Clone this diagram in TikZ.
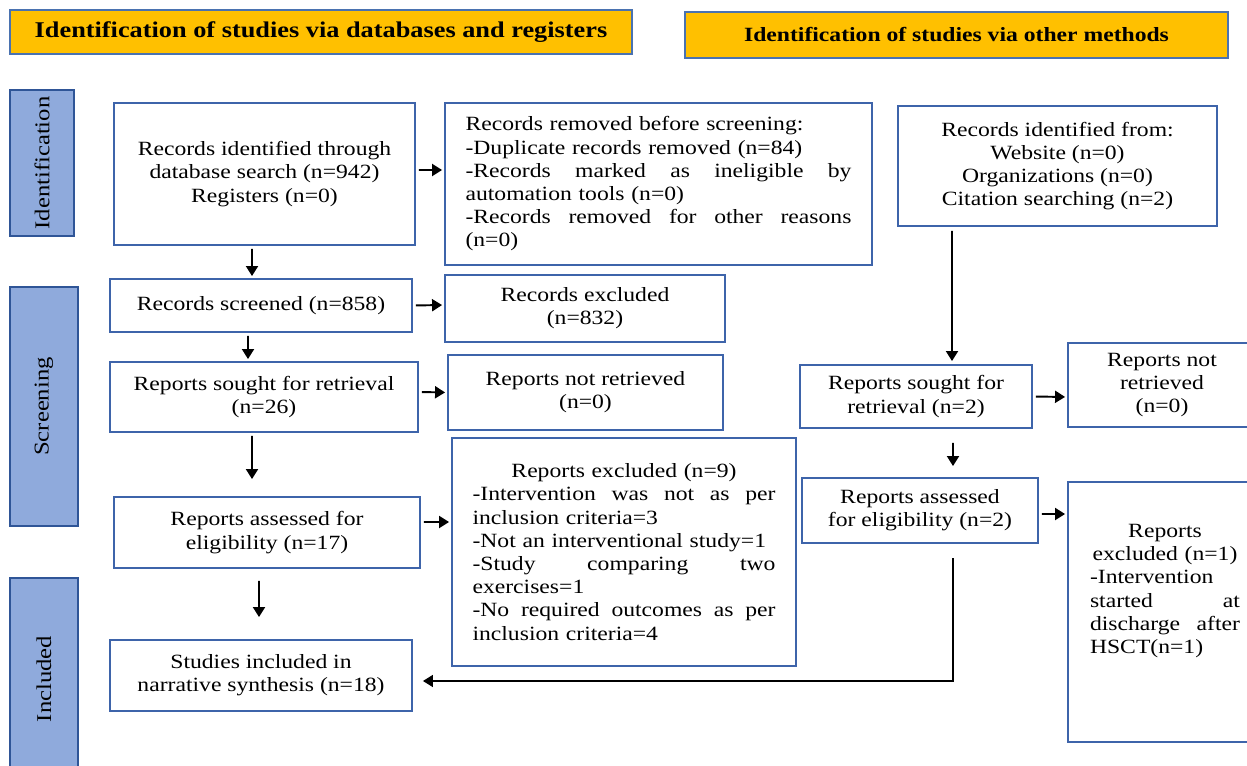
\documentclass[tikz,border=0pt]{standalone}
\usepackage{fontspec}
\setmainfont{Liberation Serif}[FakeStretch=1.17]
\usepackage{tikz}
\usetikzlibrary{arrows.meta}

\definecolor{hdfill}{HTML}{FFC000}
\definecolor{hdline}{HTML}{4A72B0}
\definecolor{sdfill}{HTML}{8FAADC}
\definecolor{sdline}{HTML}{2F5597}
\definecolor{bxline}{HTML}{3E64AA}

\begin{document}
\begin{tikzpicture}[x=0.02cm,y=-0.02cm,
  hdbox/.style={draw=hdline,line width=1.2pt,fill=hdfill},
  side/.style={draw=sdline,line width=1.2pt,fill=sdfill,rotate=90,font=\fontsize{12}{14}\selectfont},
  box/.style={draw=bxline,line width=1.1pt,fill=white,align=center,font=\fontsize{11.5}{13.2}\selectfont},
  arr/.style={line width=1.1pt,-{Triangle[length=0.2cm,width=0.24cm]},shorten <=0.06cm,shorten >=0.04cm},
  link/.style={line width=0.8pt,-{Triangle[length=0.2cm,width=0.24cm]}}]
\useasboundingbox (0,0) rectangle (1247,766);

\node[hdbox,minimum width=12.44cm,minimum height=0.88cm,font=\bfseries\fontsize{12.8}{14}\selectfont] (hdDb) at (321,32) {Identification of studies via databases and registers};
\node[hdbox,minimum width=10.86cm,minimum height=0.92cm,font=\bfseries\fontsize{11.5}{14}\selectfont] (hdOth) at (956.5,35) {Identification of studies via other methods};

\node[side,minimum width=2.92cm,minimum height=1.28cm] (sdId) at (42,163) {Identification};
\node[side,minimum width=4.78cm,minimum height=1.36cm] (sdScr) at (44,406.5) {Screening};
\node[side,minimum width=4.04cm,minimum height=1.36cm] (sdInc) at (44,679) {Included};

\node[box,minimum width=6.02cm,minimum height=2.84cm] (recDb) at (264.5,174) {Records identified through\\database search (n=942)\\Registers (n=0)};
\node[box,minimum width=8.54cm,minimum height=3.24cm,text width=7.72cm,align=left] (recRem) at (658.5,184) {Records removed before screening:\\-Duplicate records removed (n=84)\\-Records \hfill marked \hfill as \hfill ineligible \hfill by\\automation tools (n=0)\\-Records \hfill removed \hfill for \hfill other \hfill reasons\\(n=0)};
\node[box,minimum width=6.38cm,minimum height=2.40cm] (recOth) at (1057.5,166) {Records identified from:\\Website (n=0)\\Organizations (n=0)\\Citation searching (n=2)};

\node[box,minimum width=6.04cm,minimum height=1.06cm] (recScr) at (261,305.5) {Records screened (n=858)};
\node[box,minimum width=5.60cm,minimum height=1.34cm] (recExc) at (585,308.5) {Records excluded\\(n=832)};
\node[box,minimum width=6.16cm,minimum height=1.40cm] (repSgt) at (264,397) {Reports sought for retrieval\\(n=26)};
\node[box,minimum width=5.50cm,minimum height=1.50cm] (repNot) at (585.5,392.5) {Reports not retrieved\\(n=0)};
\node[box,minimum width=6.12cm,minimum height=1.42cm] (repAss) at (267,532.5) {Reports assessed for\\eligibility (n=17)};
\node[box,minimum width=6.88cm,minimum height=4.56cm,text width=6.06cm,align=left] (repExc) at (624,552) {\hfill Reports excluded (n=9)\hfill\null\\-Intervention \hfill was \hfill not \hfill as \hfill per\\inclusion criteria=3\\-Not an interventional study=1\\-Study \hfill comparing \hfill two\\exercises=1\\-No \hfill required \hfill outcomes \hfill as \hfill per\\inclusion criteria=4};
\node[box,minimum width=6.04cm,minimum height=1.42cm] (studInc) at (261,675.5) {Studies included in\\narrative synthesis (n=18)};

\node[box,minimum width=4.64cm,minimum height=1.26cm] (repSgtB) at (916,396.5) {Reports sought for\\retrieval (n=2)};
\node[box,minimum width=3.76cm,minimum height=1.68cm] (repNotB) at (1162,385) {Reports not\\retrieved\\(n=0)};
\node[box,minimum width=4.72cm,minimum height=1.30cm] (repAssB) at (920,510.5) {Reports assessed\\for eligibility (n=2)};
\node[box,minimum width=3.88cm,minimum height=5.20cm,text width=3.0cm,align=left] (repExcB) at (1165,612) {\hfill Reports\hfill\null\\\hfill excluded (n=1)\hfill\null\\-Intervention\\started \hfill at\\discharge \hfill after\\HSCT(n=1)\\\rule{0pt}{0.8cm}};

\draw[arr] ([yshift=0.08cm]recDb.east) -- ([yshift=0.28cm]recRem.west);
\draw[arr] ([xshift=-0.25cm]recDb.south) -- ([xshift=-0.18cm]recScr.north);
\draw[arr] (recScr.east) -- ([yshift=0.07cm]recExc.west);
\draw[arr] ([xshift=-0.26cm]recScr.south) -- ([xshift=-0.32cm]repSgt.north);
\draw[arr] ([yshift=0.1cm]repSgt.east) -- (repNot.west);
\draw[arr,shorten >=0.34cm] ([xshift=-0.24cm]repSgt.south) -- ([xshift=-0.3cm]repAss.north);
\draw[arr] ([yshift=0.21cm]repAss.east) -- ([yshift=0.6cm]repExc.west);
\draw[arr,shorten <=0.24cm,shorten >=0.44cm] ([xshift=-0.16cm]repAss.south) -- ([xshift=-0.04cm]studInc.north);

\draw[arr,shorten <=0.08cm,shorten >=0.06cm] ([xshift=-2.11cm]recOth.south) -- ([xshift=0.72cm]repSgtB.north);
\draw[arr] (repSgtB.east) -- ([yshift=-0.24cm]repNotB.west);
\draw[arr,shorten <=0.28cm,shorten >=0.22cm] ([xshift=0.74cm]repSgtB.south) -- ([xshift=0.66cm]repAssB.north);
\draw[arr] ([yshift=-0.07cm]repAssB.east) -- ([yshift=1.96cm]repExcB.west);

\coordinate (lnk) at (953,558);
\draw[link,shorten >=0.2cm] (lnk) |- ([yshift=-0.11cm]studInc.east);
\end{tikzpicture}
\end{document}
